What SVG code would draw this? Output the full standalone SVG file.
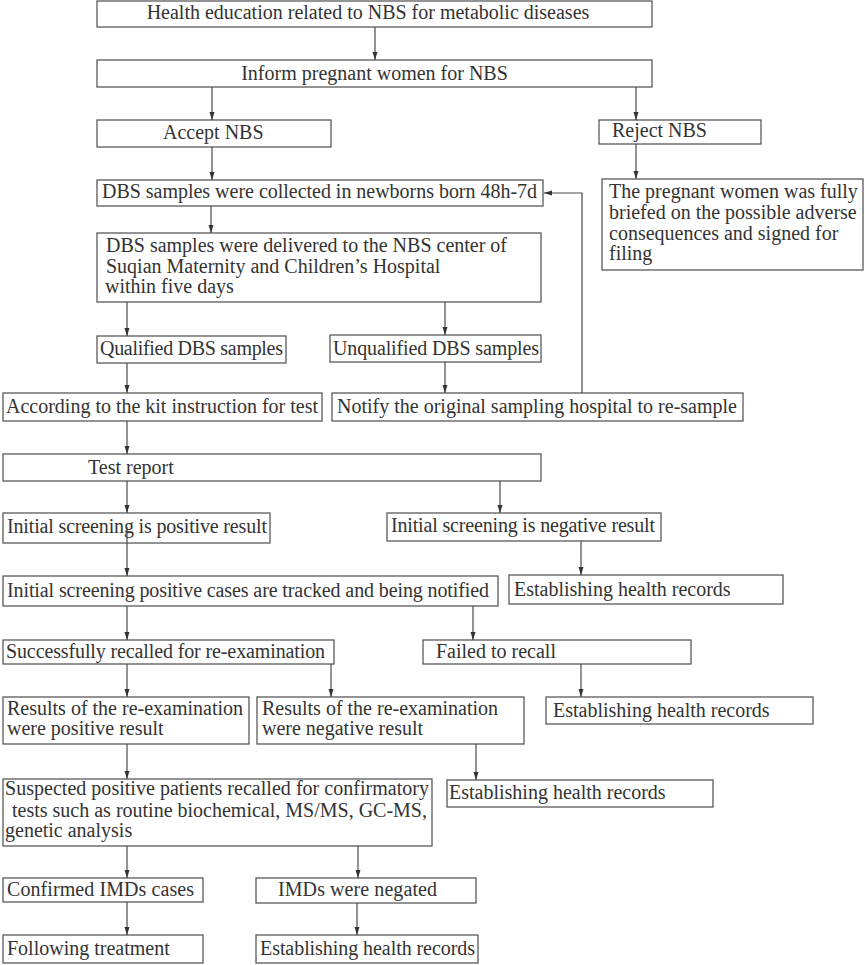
<svg xmlns="http://www.w3.org/2000/svg" width="865" height="965" viewBox="0 0 865 965">
<defs>
<style>
rect{fill:#fff;stroke:#5a5a5a;stroke-width:1.3}
text{font-family:"Liberation Serif","DejaVu Serif",serif;font-size:20px;fill:#333}
.c path{fill:none;stroke:#4a4a4a;stroke-width:1.2}
.m{text-anchor:middle}
</style>
<marker id="a" markerUnits="userSpaceOnUse" markerWidth="9" markerHeight="6" refX="8" refY="2.5" orient="auto"><path d="M0,0 L8,2.5 L0,5 z" fill="#333"/></marker>
</defs>
<rect width="865" height="965" style="fill:#fff;stroke:none"/>
<g id="n1"><rect x="97" y="1" width="555" height="26"/><text x="368" y="19" class="m">Health education related to NBS for metabolic diseases</text></g>
<g id="n2"><rect x="97" y="60" width="555" height="27"/><text x="374.5" y="80" class="m">Inform pregnant women for NBS</text></g>
<g id="n3"><rect x="97" y="120" width="234" height="27"/><text x="163" y="139">Accept NBS</text></g>
<g id="n4"><rect x="599" y="120" width="162" height="24"/><text x="612" y="137">Reject NBS</text></g>
<g id="n5"><rect x="97" y="180" width="446" height="26"/><text x="102" y="198" textLength="435">DBS samples were collected in newborns born 48h-7d</text></g>
<g id="n6"><rect x="602" y="179" width="261" height="91"/><text x="609" y="198">The pregnant women was fully</text><text x="609" y="219">briefed on the possible adverse</text><text x="609" y="240">consequences and signed for</text><text x="609" y="260">filing</text></g>
<g id="n7"><rect x="97" y="233" width="444" height="69"/><text x="106" y="252">DBS samples were delivered to the NBS center of</text><text x="106" y="273">Suqian Maternity and Children’s Hospital</text><text x="105" y="293">within five days</text></g>
<g id="n8"><rect x="97" y="336" width="189" height="27"/><text x="100" y="355" textLength="183">Qualified DBS samples</text></g>
<g id="n9"><rect x="330" y="335" width="211" height="27"/><text x="333" y="355" textLength="206">Unqualified DBS samples</text></g>
<g id="n10"><rect x="3" y="393" width="319" height="28"/><text x="6" y="413" textLength="312">According to the kit instruction for test</text></g>
<g id="n11"><rect x="332" y="393" width="411" height="28"/><text x="337" y="413" textLength="400">Notify the original sampling hospital to re-sample</text></g>
<g id="n12"><rect x="3" y="454" width="538" height="27"/><text x="88" y="474">Test report</text></g>
<g id="n13"><rect x="3" y="513" width="267" height="30"/><text x="7" y="533" textLength="260">Initial screening is positive result</text></g>
<g id="n14"><rect x="387" y="513" width="274" height="28"/><text x="391" y="532" textLength="264">Initial screening is negative result</text></g>
<g id="n15"><rect x="3" y="576" width="495" height="30"/><text x="7" y="597" textLength="482">Initial screening positive cases are tracked and being notified</text></g>
<g id="n16"><rect x="509" y="575" width="274" height="29"/><text x="514" y="596">Establishing health records</text></g>
<g id="n17"><rect x="3" y="640" width="331" height="24"/><text x="6" y="658" textLength="319">Successfully recalled for re-examination</text></g>
<g id="n18"><rect x="423" y="640" width="268" height="24"/><text x="436" y="658">Failed to recall</text></g>
<g id="n19"><rect x="3" y="697" width="246" height="47"/><text x="7" y="715">Results of the re-examination</text><text x="7" y="735">were positive result</text></g>
<g id="n20"><rect x="257" y="697" width="267" height="47"/><text x="262" y="715">Results of the re-examination</text><text x="262" y="735">were negative result</text></g>
<g id="n21"><rect x="546" y="697" width="267" height="27"/><text x="553" y="717">Establishing health records</text></g>
<g id="n22"><rect x="447" y="780" width="266" height="27"/><text x="449" y="799">Establishing health records</text></g>
<g id="n23"><rect x="3" y="779" width="429" height="67"/><text x="5" y="795" textLength="424">Suspected positive patients recalled for confirmatory</text><text x="12" y="817">tests such as routine biochemical, MS/MS, GC-MS,</text><text x="5" y="837">genetic analysis</text></g>
<g id="n24"><rect x="3" y="878" width="200" height="24"/><text x="7" y="896" textLength="187">Confirmed IMDs cases</text></g>
<g id="n25"><rect x="256" y="878" width="220" height="25"/><text x="278" y="896" textLength="159">IMDs were negated</text></g>
<g id="n26"><rect x="3" y="935" width="200" height="28"/><text x="7" y="955">Following treatment</text></g>
<g id="n27"><rect x="256" y="935" width="222" height="28"/><text x="260" y="955" textLength="215">Establishing health records</text></g>
<g id="connectors" class="c">
<path d="M375,27V60" marker-end="url(#a)"/>
<path d="M212,87V120" marker-end="url(#a)"/>
<path d="M636,87V120" marker-end="url(#a)"/>
<path d="M212,147V180" marker-end="url(#a)"/>
<path d="M636,144V179" marker-end="url(#a)"/>
<path d="M211,206V233" marker-end="url(#a)"/>
<path d="M127,302V336" marker-end="url(#a)"/>
<path d="M445,302V335" marker-end="url(#a)"/>
<path d="M127,363V393" marker-end="url(#a)"/>
<path d="M445,362V393" marker-end="url(#a)"/>
<path d="M582,393V193H544" marker-end="url(#a)"/>
<path d="M127,421V454" marker-end="url(#a)"/>
<path d="M127,481V513" marker-end="url(#a)"/>
<path d="M500,481V513" marker-end="url(#a)"/>
<path d="M127,527V576" marker-end="url(#a)"/>
<path d="M581,541V575" marker-end="url(#a)"/>
<path d="M127,606V640" marker-end="url(#a)"/>
<path d="M473,606V640" marker-end="url(#a)"/>
<path d="M127,664V697" marker-end="url(#a)"/>
<path d="M331,664V697" marker-end="url(#a)"/>
<path d="M581,664V697" marker-end="url(#a)"/>
<path d="M476,744V780" marker-end="url(#a)"/>
<path d="M127,744V779" marker-end="url(#a)"/>
<path d="M127,846V878" marker-end="url(#a)"/>
<path d="M358,846V878" marker-end="url(#a)"/>
<path d="M127,902V935" marker-end="url(#a)"/>
<path d="M357,903V935" marker-end="url(#a)"/>
</g>
</svg>
